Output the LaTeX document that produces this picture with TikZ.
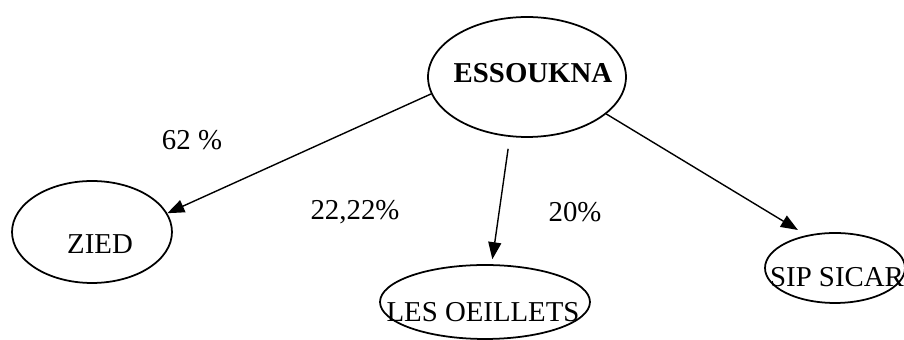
\documentclass[tikz,border=0pt]{standalone}
\usepackage{fontspec}
\setmainfont{Liberation Serif}
\usetikzlibrary{shapes.geometric,arrows.meta}
\tikzset{
  oval/.style={draw,ellipse,inner sep=0pt,line width=1pt},
  share/.style={draw,line width=0.8pt,-{Triangle[length=3.4mm,width=2.6mm]}}
}
\begin{document}
\begin{tikzpicture}[x=0.02cm,y=-0.02cm,font=\fontsize{16.4}{19}\selectfont]
      \path[use as bounding box] (0,0) rectangle (904,340);
      \node[oval,minimum width=3.96cm,minimum height=2.4cm] at (527,77) (ess) {};
      \node at (533,73) (esst) {\textbf{ESSOUKNA}};
      \node[oval,minimum width=3.2cm,minimum height=2.04cm] at (92,232) (zied) {};
      \node at (100,244) (ziedt) {ZIED};
      \node[oval,minimum width=4.2cm,minimum height=1.48cm] at (485,302) (oeil) {};
      \node at (483,312) (oeilt) {LES OEILLETS};
      \node[oval,minimum width=2.8cm,minimum height=1.4cm] at (835,268) (sip) {};
      \node at (837,277) (sipt) {SIP SICAR};
      \node at (192,140) (pa) {62 \%};
      \node at (355,212) (pb) {22,22\%};
      \node at (575,212) (pc) {20\%};
      \path[share] (ess.190) -- (zied.14);
      \path[share,shorten <=0.24cm,shorten >=0.1cm] (ess.254) -- (oeil.80);
      \path[share,shorten >=0.2cm] (ess.335) -- (sip.131);
    \end{tikzpicture}
\end{document}
